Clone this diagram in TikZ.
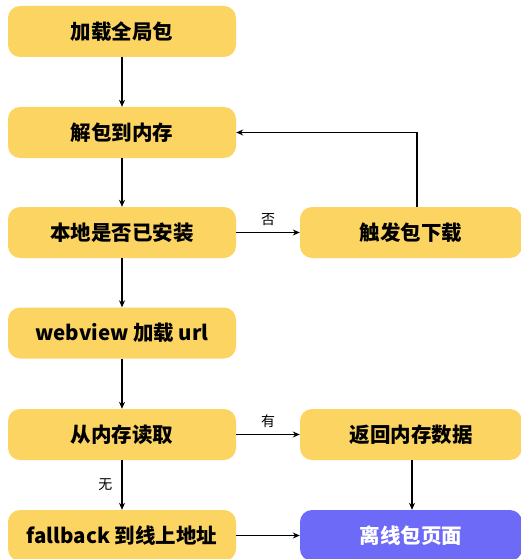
\documentclass[tikz,border=0pt]{standalone}
\usepackage{fontspec}
\setmainfont{Noto Sans CJK SC}
\usetikzlibrary{arrows.meta}
\definecolor{boxy}{HTML}{FCD462}
\definecolor{boxp}{HTML}{6D6AF7}
\tikzset{
  stepbox/.style={fill=boxy, rounded corners=12pt, minimum height=51pt, inner sep=0pt,
    font=\fontsize{20.5}{24}\selectfont\bfseries, text=black},
  lbox/.style={stepbox, minimum width=228pt},
  rbox/.style={stepbox, minimum width=222pt},
  conn/.style={draw=black, line width=1.1pt, -{Stealth[length=7pt,width=6pt]}},
  lbl/.style={font=\fontsize{14}{16}\selectfont, text=black, inner sep=1pt}
}
\begin{document}
\begin{tikzpicture}[x=1pt,y=1pt]
\useasboundingbox (0,0) rectangle (520,-559);
\fill[white] (0,0) rectangle (520,-559);
\node[lbox] (a) at (122,-31.5) {加载全局包};
\node[lbox] (b) at (122,-132.5) {解包到内存};
\node[lbox] (c) at (122,-232.5) {本地是否已安装};
\node[rbox] (d) at (411,-232.5) {触发包下载};
\node[lbox] (e) at (122,-333) {webview 加载 url};
\node[lbox] (f) at (122,-434.5) {从内存读取};
\node[rbox] (g) at (411,-434.5) {返回内存数据};
\node[lbox] (h) at (122,-535.5) {fallback 到线上地址};
\node[rbox, fill=boxp, text=white] (i) at (411,-535.5) {离线包页面};
\draw[conn] (a) -- (b);
\draw[conn] (b) -- (c);
\draw[conn] (c) -- node[lbl, above=5pt] {否} (d);
\draw[conn] (d.north -| 417,0) |- (b.east);
\draw[conn] (c) -- (e);
\draw[conn] (e) -- (f);
\draw[conn] (f) -- node[lbl, above=5pt] {有} (g);
\draw[conn] (f) -- node[lbl, left=8pt] {无} (h);
\draw[conn] (g.south -| 412,0) -- (i.north -| 412,0);
\draw[conn] (h) -- (i);
\end{tikzpicture}
\end{document}
